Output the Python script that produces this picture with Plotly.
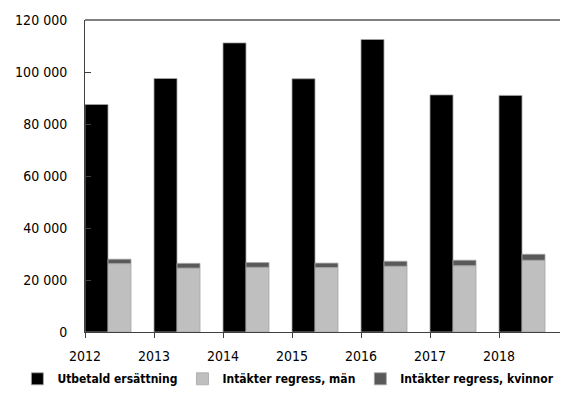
import plotly.graph_objects as go

years = ["2012", "2013", "2014", "2015", "2016", "2017", "2018"]
utbetald = [87500, 97500, 111200, 97400, 112500, 91200, 91000]
regress_man = [26300, 24600, 24900, 24800, 25300, 25500, 27600]
regress_kvinnor = [1700, 1800, 1800, 1700, 1900, 2100, 2300]

series_names = ["Utbetald ersättning", "Intäkter regress, män", "Intäkter regress, kvinnor"]
colors = ["#000000", "#bfbfbf", "#595959"]

FONT = "'DejaVu Sans Condensed', 'Liberation Sans Narrow', sans-serif"
edge = dict(color="#a6a6a6", width=0.8)

fig = go.Figure()
fig.add_trace(go.Bar(x=years, y=utbetald, name=series_names[0], offset=0, width=1/3,
                     marker=dict(color=colors[0], line=edge)))
fig.add_trace(go.Bar(x=years, y=regress_man, name=series_names[1], offset=1/3, width=1/3,
                     marker=dict(color=colors[1], line=edge)))
fig.add_trace(go.Bar(x=years, y=regress_kvinnor, base=regress_man, name=series_names[2],
                     offset=1/3, width=1/3, marker=dict(color=colors[2], line=edge)))

fig.update_layout(
    width=568, height=400,
    margin=dict(l=77, r=8, t=12, b=76, autoexpand=False),
    paper_bgcolor="white", plot_bgcolor="white",
    barmode="overlay",
    separators=", ",
    font=dict(family=FONT, size=14, color="#000000"),
    showlegend=True,
    legend=dict(orientation="h", xref="paper", yref="paper",
                x=-0.14, xanchor="left", y=-0.15, yanchor="middle",
                font=dict(family=FONT, size=12, color="#000000", weight="bold"),
                itemwidth=30, traceorder="normal", bgcolor="rgba(0,0,0,0)"),
    xaxis=dict(type="category", range=[0, 7], showgrid=False, zeroline=False, automargin=False,
               showline=True, linecolor="#404040", linewidth=1,
               ticks="outside", ticklen=5, tickcolor="#404040",
               ticklabelstandoff=6, tickfont=dict(family=FONT, size=14)),
    yaxis=dict(range=[0, 120000], dtick=20000, tickformat=",d", showgrid=False, automargin=False,
               zeroline=False, showline=True, linecolor="#404040", linewidth=1,
               ticks="inside", ticklen=6, tickcolor="#404040",
               ticklabelstandoff=14, tickfont=dict(family=FONT, size=14)),
    shapes=[dict(type="line", xref="paper", yref="paper", x0=0, x1=1, y0=1, y1=1,
                 line=dict(color="#808080", width=2))],
)

fig.write_html("out.html")
